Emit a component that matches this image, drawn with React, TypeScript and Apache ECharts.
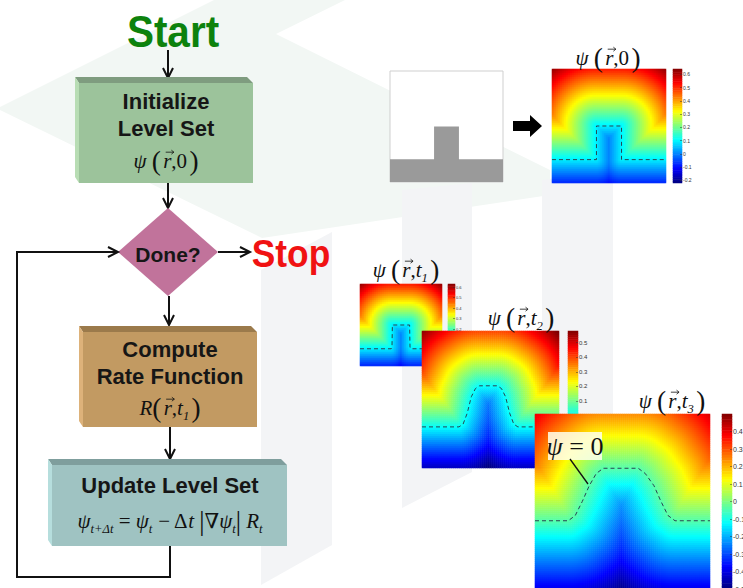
import { useEffect, useRef } from 'react';
import * as echarts from 'echarts';

// ψ = 0 interface profiles (x fraction, y fraction from top)
const profile0X = [0, 0.39, 0.39, 0.61, 0.61, 1];
const profile0Y = [0.795, 0.795, 0.5, 0.5, 0.795, 0.795];
const profile1X = [0, 0.38, 0.39, 0.395, 0.605, 0.61, 0.62, 1];
const profile1Y = [0.79, 0.79, 0.77, 0.5, 0.5, 0.77, 0.79, 0.79];
const profile2X = [0, 0.27, 0.3, 0.33, 0.36, 0.39, 0.42, 0.55, 0.58, 0.61, 0.64, 0.67, 0.7, 1];
const profile2Y = [0.7, 0.7, 0.68, 0.6, 0.48, 0.42, 0.4, 0.4, 0.42, 0.48, 0.6, 0.68, 0.7, 0.7];
const profile3X = [0, 0.19, 0.23, 0.27, 0.31, 0.35, 0.39, 0.59, 0.63, 0.68, 0.72, 0.76, 0.8, 1];
const profile3Y = [0.61, 0.61, 0.58, 0.5, 0.41, 0.34, 0.31, 0.31, 0.34, 0.41, 0.5, 0.58, 0.61, 0.61];

// colour scale ranges of the level-set fields
const fieldRange0 = [-0.37, 0.65];
const fieldRange1 = [-0.37, 0.65];
const fieldRange2 = [-0.36, 0.58];
const fieldRange3 = [-0.51, 0.6];

// colour bars (only the labels that are not hidden by the next panel)
const colorbar0Range = [-0.22, 0.64];
const colorbar0Ticks = [-0.2, -0.1, 0, 0.1, 0.2, 0.3, 0.4, 0.5, 0.6];
const colorbar1Range = [-0.15, 0.63];
const colorbar1Ticks = [0.2, 0.3, 0.4, 0.5, 0.6];
const colorbar2Range = [-0.36, 0.58];
const colorbar2Ticks = [0.1, 0.2, 0.3, 0.4, 0.5];
const colorbar3Range = [-0.5, 0.5];
const colorbar3Ticks = [-0.5, -0.4, -0.3, -0.2, -0.1, 0, 0.1, 0.2, 0.3, 0.4];

const JET = ['#00007f', '#0000ff', '#007fff', '#00ffff', '#7fff7f', '#ffff00', '#ff7f00', '#ff0000', '#7f0000'];
const M = 64;

function signedDistance(px: number, py: number, xs: number[], ys: number[]) {
  let best = Infinity;
  for (let k = 0; k < xs.length - 1; k++) {
    const ax = xs[k], ay = ys[k], bx = xs[k + 1], by = ys[k + 1];
    const dx = bx - ax, dy = by - ay;
    const L = dx * dx + dy * dy;
    let t = L > 0 ? ((px - ax) * dx + (py - ay) * dy) / L : 0;
    t = Math.max(0, Math.min(1, t));
    best = Math.min(best, Math.hypot(ax + t * dx - px, ay + t * dy - py));
  }
  let h = ys[0];
  for (let k = 0; k < xs.length - 1; k++) {
    if (xs[k + 1] > xs[k] && px >= xs[k] && px <= xs[k + 1]) {
      h = ys[k] + ((ys[k + 1] - ys[k]) * (px - xs[k])) / (xs[k + 1] - xs[k]);
      break;
    }
  }
  return py < h ? best : -best;
}

function fieldData(xs: number[], ys: number[], n: number) {
  const out: number[][] = [];
  for (let i = 0; i < n; i++)
    for (let j = 0; j < n; j++)
      out.push([i, j, signedDistance((i + 0.5) / n, (j + 0.5) / n, xs, ys)]);
  return out;
}

const serif = '"Liberation Serif", "DejaVu Serif", serif';
const sans = '"Liberation Sans", Arial, sans-serif';

function mathRich(size: number) {
  return {
    i: { fontFamily: serif, fontStyle: 'italic', fontSize: size, lineHeight: size * 1.4, fill: '#111', color: '#111' },
    n: { fontFamily: serif, fontSize: size, lineHeight: size * 1.4, fill: '#111', color: '#111' },
    p: { fontFamily: serif, fontSize: size * 1.3, lineHeight: size * 1.4, fill: '#111', color: '#111' },
    s: { fontFamily: serif, fontStyle: 'italic', fontSize: size * 0.6, lineHeight: size * 0.6, verticalAlign: 'bottom', fill: '#111', color: '#111' },
    b: { fontFamily: serif, fontSize: size * 1.25, lineHeight: size * 1.4, fill: '#111', color: '#111' },
  };
}

function mathText(x: number, y: number, size: number, text: string, z = 10, align = 'center') {
  return {
    type: 'text', x, y, z,
    style: { text, rich: mathRich(size), align, verticalAlign: 'middle' },
  };
}

function richWidth(size: number, text: string) {
  const t = new (echarts.graphic as any).Text({ style: { text, rich: mathRich(size) } });
  return t.getBoundingRect().width;
}

// "pre (r with vector arrow) post", centred on cx
function vecTitle(cx: number, cy: number, size: number, pre: string, post: string, z = 12) {
  const wPre = richWidth(size, pre);
  const wR = richWidth(size, '{i|r}');
  const wPost = richWidth(size, post);
  const left = cx - (wPre + wR + wPost) / 2;
  const rx = left + wPre;
  const ay = cy - size * 0.42;
  const ax1 = rx + size * 0.12;
  const ax2 = rx + wR + size * 0.12;
  return [
    mathText(left, cy, size, pre, z, 'left'),
    mathText(rx, cy, size, '{i|r}', z, 'left'),
    mathText(rx + wR, cy, size, post, z, 'left'),
    { type: 'line', z, shape: { x1: ax1, y1: ay, x2: ax2, y2: ay }, style: { stroke: '#111', lineWidth: 0.8 } },
    { type: 'polyline', z, shape: { points: [[ax2 - 2.5, ay - 2], [ax2, ay], [ax2 - 2.5, ay + 2]] }, style: { stroke: '#111', lineWidth: 0.8, fill: 'none' } },
  ];
}

function arrowDown(x: number, y1: number, y2: number) {
  return [
    { type: 'line', z: 10, shape: { x1: x, y1, x2: x, y2 }, style: { stroke: '#111', lineWidth: 2 } },
    { type: 'polyline', z: 10, shape: { points: [[x - 5, y2 - 10], [x, y2], [x + 5, y2 - 10]] }, style: { stroke: '#111', lineWidth: 2, fill: 'none' } },
  ];
}
function arrowRight(x1: number, x2: number, y: number) {
  return [
    { type: 'line', z: 10, shape: { x1, y1: y, x2, y2: y }, style: { stroke: '#111', lineWidth: 2 } },
    { type: 'polyline', z: 10, shape: { points: [[x2 - 10, y - 5], [x2, y], [x2 - 10, y + 5]] }, style: { stroke: '#111', lineWidth: 2, fill: 'none' } },
  ];
}
function box3d(x: number, y: number, w: number, h: number, front: string, top: string, side: string) {
  return [
    { type: 'polygon', z: 10, shape: { points: [[x - 4, y - 6], [x + w - 6, y - 6], [x + w, y], [x, y]] }, style: { fill: top } },
    { type: 'polygon', z: 10, shape: { points: [[x - 4, y - 6], [x, y], [x, y + h], [x - 4, y + h - 6]] }, style: { fill: side } },
    { type: 'rect', z: 10, shape: { x, y, width: w, height: h }, style: { fill: front } },
  ];
}
function boldText(x: number, y: number, text: string, size: number, fill = '#161616', scaleX = 1) {
  return {
    type: 'text', x, y, z: 11, scaleX,
    style: { text, fill, font: `bold ${size}px ${sans}`, align: 'center', verticalAlign: 'middle' },
  };
}

export default function App() {
  const ref = useRef<HTMLDivElement>(null);
  useEffect(() => {
    if (!ref.current) return;
    const chart = echarts.init(ref.current, null, { renderer: 'svg' });

    const panels = [
      { xs: profile0X, ys: profile0Y, range: fieldRange0, cbRange: colorbar0Range, cbTicks: colorbar0Ticks, left: 552, top: 69, size: 114, cbLeft: 673, cbWidth: 9, z: 3, tick: 5 },
      { xs: profile1X, ys: profile1Y, range: fieldRange1, cbRange: colorbar1Range, cbTicks: colorbar1Ticks, left: 360, top: 284, size: 82, cbLeft: 448, cbWidth: 7, z: 3, tick: 4 },
      { xs: profile2X, ys: profile2Y, range: fieldRange2, cbRange: colorbar2Range, cbTicks: colorbar2Ticks, left: 422, top: 331, size: 137, cbLeft: 568, cbWidth: 10, z: 5, tick: 6 },
      { xs: profile3X, ys: profile3Y, range: fieldRange3, cbRange: colorbar3Range, cbTicks: colorbar3Ticks, left: 535, top: 414, size: 175, cbLeft: 722, cbWidth: 10, z: 7, tick: 7 },
    ];

    const grid: any[] = [];
    const xAxis: any[] = [];
    const yAxis: any[] = [];
    const series: any[] = [];
    const visualMap: any[] = [];
    const cbSeries: number[] = [];
    const rowsCb = Array.from({ length: M }, (_, i) => String(i));

    const addGrid = (g: any) => { grid.push({ ...g, outerBoundsMode: 'none', containLabel: false }); return grid.length - 1; };

    panels.forEach((p) => {
      const n = Math.round(p.size / 2);
      const cols = Array.from({ length: n }, (_, i) => String(i));
      // field heatmap
      const g1 = addGrid({ left: p.left, top: p.top, width: p.size, height: p.size });
      xAxis.push({ type: 'category', gridIndex: g1, data: cols, show: false });
      const xa1 = xAxis.length - 1;
      yAxis.push({ type: 'category', gridIndex: g1, data: cols, show: false, inverse: true });
      const ya1 = yAxis.length - 1;
      series.push({ type: 'heatmap', xAxisIndex: xa1, yAxisIndex: ya1, data: fieldData(p.xs, p.ys, n), z: p.z, silent: true, progressive: 0, emphasis: { disabled: true }, itemStyle: { borderWidth: 0 } });
      visualMap.push({ type: 'continuous', show: false, min: p.range[0], max: p.range[1], dimension: 2, seriesIndex: series.length - 1, inRange: { color: JET } });

      // dashed zero contour
      const g2 = addGrid({ left: p.left, top: p.top, width: p.size, height: p.size });
      xAxis.push({ type: 'value', gridIndex: g2, min: 0, max: 1, show: false });
      const xa2 = xAxis.length - 1;
      yAxis.push({ type: 'value', gridIndex: g2, min: 0, max: 1, show: false, inverse: true });
      const ya2 = yAxis.length - 1;
      series.push({ type: 'line', xAxisIndex: xa2, yAxisIndex: ya2, data: p.xs.map((x, k) => [x, p.ys[k]]), symbol: 'none', silent: true, z: p.z + 1, lineStyle: { color: '#2a4450', width: 1, type: [4, 3] } });

      // colour bar
      const g3 = addGrid({ left: p.cbLeft, top: p.top, width: p.cbWidth, height: p.size });
      xAxis.push({ type: 'category', gridIndex: g3, data: ['c'], show: false });
      const xa3 = xAxis.length - 1;
      yAxis.push({ type: 'category', gridIndex: g3, data: rowsCb, show: false, inverse: true });
      const ya3 = yAxis.length - 1;
      yAxis.push({
        type: 'value', gridIndex: g3, position: 'right', min: p.cbRange[0], max: p.cbRange[1], z: p.z,
        axisLine: { show: false }, splitLine: { show: false },
        axisTick: { show: true, inside: true, length: 2, customValues: p.cbTicks, lineStyle: { color: '#333', width: 0.5 } },
        axisLabel: { customValues: p.cbTicks, fontSize: p.tick, margin: 1, color: '#333', formatter: (v: number) => String(Math.round(v * 10) / 10) },
      });
      series.push({ type: 'heatmap', xAxisIndex: xa3, yAxisIndex: ya3, data: rowsCb.map((_, j) => [0, j, 1 - (j + 0.5) / M]), z: p.z, silent: true, progressive: 0, emphasis: { disabled: true } });
      cbSeries.push(series.length - 1);
    });
    visualMap.push({ type: 'continuous', show: false, min: 0, max: 1, dimension: 2, seriesIndex: cbSeries, inRange: { color: JET } });

    // initial geometry (grey feature)
    const gg = addGrid({ left: 390, top: 71, width: 113, height: 111 });
    xAxis.push({ type: 'value', gridIndex: gg, min: 0, max: 1, show: false });
    yAxis.push({ type: 'value', gridIndex: gg, min: 0, max: 1, show: false, inverse: true });
    series.push({ type: 'line', xAxisIndex: xAxis.length - 1, yAxisIndex: yAxis.length - 1, data: profile0X.map((x, k) => [x, profile0Y[k]]), symbol: 'none', silent: true, z: 3, lineStyle: { width: 0 }, areaStyle: { color: '#9a9a9a', opacity: 1, origin: 'end' } });

    const psiPre = '{i|ψ }{p|(\u200A}';
    const TS = 21;
    const graphic: any[] = [
      // faint watermark
      { type: 'polygon', z: 0, shape: { points: [[0, 107], [214, 0], [345, 0], [276, 34], [550, 170], [550, 195], [262, 238], [0, 110]] }, style: { fill: '#f2f7f4' } },
      { type: 'polygon', z: 0, shape: { points: [[261, 270], [332, 232], [332, 545], [261, 585]] }, style: { fill: '#f3f4f6' } },
      { type: 'polygon', z: 0, shape: { points: [[402, 190], [472, 183], [472, 472], [402, 508]] }, style: { fill: '#f3f4f6' } },
      { type: 'polygon', z: 0, shape: { points: [[542, 180], [613, 170], [613, 414], [542, 414]] }, style: { fill: '#f3f4f6' } },

      // flowchart
      boldText(173, 31, 'Start', 45, '#0d820d', 0.9),
      ...arrowDown(168, 50, 78),
      ...box3d(79, 83, 174, 100, '#9cc39b', '#7f9c7f', '#b8ddb4'),
      boldText(166, 101, 'Initialize', 22),
      boldText(166, 128, 'Level Set', 22),
      ...vecTitle(166, 161, TS, psiPre, '{n|,0}{p|\u200A)}'),
      ...arrowDown(168, 183, 208),
      { type: 'polygon', z: 10, shape: { points: [[168, 208], [218, 252], [168, 296], [118, 252]] }, style: { fill: '#c1739b' } },
      boldText(168, 254, 'Done?', 21),
      ...arrowRight(218, 250, 252),
      boldText(291, 254, 'Stop', 38, '#f01212', 0.93),
      ...arrowDown(169, 296, 325),
      ...box3d(83, 332, 174, 95, '#c29a62', '#9b7a4b', '#ddb27a'),
      boldText(170, 349, 'Compute', 22),
      boldText(170, 376, 'Rate Function', 22),
      ...vecTitle(170, 408, TS, '{i|R}{p|(\u200A}', '{n|,}{i|t}{s|1}{p|\u200A)}'),
      ...arrowDown(170, 427, 459),
      ...box3d(52, 465, 235, 81, '#9fc3c2', '#7f9e9d', '#b6dedd'),
      boldText(170, 485, 'Update Level Set', 22),
      mathText(170, 521, 21, '{i|ψ}{s|t+Δt}{n| = }{i|ψ}{s|t}{n| − Δ}{i|t}{b|\u2009|}{n|∇}{i|ψ}{s|t}{b||\u2009}{i|R}{s|t}', 12),
      { type: 'polyline', z: 10, shape: { points: [[170, 546], [170, 577], [17, 577], [17, 252], [116, 252]] }, style: { stroke: '#111', lineWidth: 2, fill: 'none' } },
      { type: 'polyline', z: 10, shape: { points: [[108, 247], [118, 252], [108, 257]] }, style: { stroke: '#111', lineWidth: 2, fill: 'none' } },

      // right side
      { type: 'rect', z: 1, shape: { x: 390, y: 71, width: 113, height: 111 }, style: { fill: '#fff', stroke: '#cfcfcf', lineWidth: 1 } },
      { type: 'polygon', z: 10, shape: { points: [[513, 121], [530, 121], [530, 115], [542, 126], [530, 137], [530, 131], [513, 131]] }, style: { fill: '#000' } },
      ...vecTitle(608, 58, TS, psiPre, '{n|,0}{p|\u200A)}'),
      ...vecTitle(406, 270, TS, psiPre, '{n|,}{i|t}{s|1}{p|\u200A)}', 4),
      ...vecTitle(521, 318, TS, psiPre, '{n|,}{i|t}{s|2}{p|\u200A)}'),
      ...vecTitle(672, 401, TS, psiPre, '{n|,}{i|t}{s|3}{p|\u200A)}'),
      { type: 'rect', z: 20, shape: { x: 548, y: 432, width: 54, height: 28 }, style: { fill: 'rgba(255,255,238,0.85)' } },
      mathText(575, 446, 26, '{i|ψ}{n| = 0}', 21),
      { type: 'line', z: 21, shape: { x1: 570, y1: 459, x2: 588, y2: 484 }, style: { stroke: '#111', lineWidth: 1.3 } },
    ];

    chart.setOption({
      animation: false,
      backgroundColor: '#ffffff',
      grid, xAxis, yAxis, series, visualMap, graphic,
    });
    return () => chart.dispose();
  }, []);

  return <div ref={ref} style={{ position: 'absolute', left: 0, top: 0, width: 743, height: 588 }} />;
}
